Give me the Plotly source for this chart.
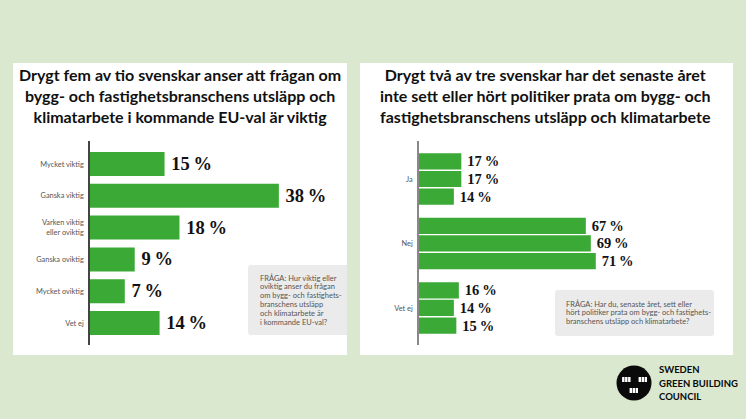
import plotly.graph_objects as go

W, H = 746, 419
# ---- data ----
left_categories = ["Mycket viktig", "Ganska viktig", "Varken viktig<br>eller oviktig", "Ganska oviktig", "Mycket oviktig", "Vet ej"]
left_values = [15, 38, 18, 9, 7, 14]
right_categories = ["Ja", "Nej", "Vet ej"]
right_series_a = [17, 67, 16]
right_series_b = [17, 69, 14]
right_series_c = [14, 71, 15]
left_title = "Drygt fem av tio svenskar anser att frågan om<br>bygg- och fastighetsbranschens utsläpp och<br>klimatarbete i kommande EU-val är viktig"
right_title = "Drygt två av tre svenskar har det senaste året<br>inte sett eller hört politiker prata om bygg- och<br>fastighetsbranschens utsläpp och klimatarbete"
left_note = ["FRÅGA: Hur viktig eller", "oviktig anser du frågan", "om bygg- och fastighets-", "branschens utsläpp", "och klimatarbete är", "i kommande EU-val?"]
right_note = ["FRÅGA: Har du, senaste året, sett eller", "hört politiker prata om bygg- och fastighets-", "branschens utsläpp och klimatarbete?"]
logo_lines = ["SWEDEN", "GREEN BUILDING", "COUNCIL"]

GREEN = "#3aa935"
BG = "#d9e8cf"
TITLE_FONT = "Lato"
LABEL_FONT = "Liberation Serif"
SMALL = "Lato"

px = lambda x: x / W
py = lambda y: 1 - y / H

fig = go.Figure()
def bar(x, y, xa, ya, size):
    return go.Bar(x=x, y=y, orientation="h", xaxis=xa, yaxis=ya,
                  marker=dict(color=GREEN, line=dict(width=0)),
                  text=[f"\u2009<b>{v}\u2009%</b>" for v in x], textposition="outside", cliponaxis=False,
                  textangle=0, constraintext="none",
                  textfont=dict(family=LABEL_FONT, size=size, color="#111111"),
                  showlegend=False, hoverinfo="skip")
fig.add_trace(bar(left_values, left_categories, "x", "y", 18.5))
for s in (right_series_a, right_series_b, right_series_c):
    fig.add_trace(bar(s, right_categories, "x2", "y2", 14.5))

def rect(x0, y0, x1, y1, color, layer="below"):
    return dict(type="rect", xref="paper", yref="paper", x0=px(x0), x1=px(x1), y0=py(y0), y1=py(y1),
                fillcolor=color, line=dict(width=0), layer=layer)
def rounded(x0, y0, x1, y1, r, color, right_round=True):
    rr = r if right_round else 0
    p = (f"M {px(x0+r)} {py(y0)} L {px(x1-rr)} {py(y0)} Q {px(x1)} {py(y0)} {px(x1)} {py(y0+rr)} "
         f"L {px(x1)} {py(y1-rr)} Q {px(x1)} {py(y1)} {px(x1-rr)} {py(y1)} L {px(x0+r)} {py(y1)} "
         f"Q {px(x0)} {py(y1)} {px(x0)} {py(y1-r)} L {px(x0)} {py(y0+r)} Q {px(x0)} {py(y0)} {px(x0+r)} {py(y0)} Z")
    return dict(type="path", xref="paper", yref="paper", path=p, fillcolor=color, line=dict(width=0), layer="below")

shapes = [rect(13, 63, 347, 355, "white"), rect(360, 63, 733, 355, "white"),
          rounded(248, 265, 347, 335, 3, "#ebebeb", right_round=False),
          rounded(555, 290, 714, 336, 3, "#ebebeb")]
# logo
cx, cy, r = 634, 383, 17.5
shapes.append(dict(type="circle", xref="paper", yref="paper", x0=px(cx-r), x1=px(cx+r), y0=py(cy-r), y1=py(cy+r),
                   fillcolor="#0a0a0a", line=dict(width=0), layer="above"))
for bx, by in [(626.5, 379.5), (643, 379.5), (634, 390.5)]:
    for dx in (-4.4, -1.4, 1.6):
        shapes.append(rect(bx+dx, by-2.5, bx+dx+2.4, by+2.5, "white", layer="above"))

def label(x, y, text, size, color="#111111", family=TITLE_FONT, anchor="left", align="left", bold=False):
    t = f"<b>{text}</b>" if bold else text
    return dict(xref="paper", yref="paper", x=px(x), y=py(y), text=t, showarrow=False, xanchor=anchor, yanchor="middle",
                align=align, font=dict(family=family, size=size, color=color))

ann = [label(180, 96, left_title, 16, anchor="center", align="center", bold=True),
       label(545, 96, right_title, 16, anchor="center", align="center", bold=True)]
for i, line in enumerate(left_note):
    ann.append(label(258, 278 + i * 8.8, line, 7.5, color="#555555", family=SMALL))
for i, line in enumerate(right_note):
    ann.append(label(564, 304 + i * 8.8, line, 7.5, color="#555555", family=SMALL))
for i, line in enumerate(logo_lines):
    ann.append(label(656.5, 369.5 + i * 13.7, line, 9.5, color="#0a0a0a", bold=True))

axis_y = dict(showgrid=False, zeroline=False, ticks="", showline=True, linewidth=1.5, type="category",
              tickfont=dict(family=SMALL, size=7.4, color="#555555"), ticklabelstandoff=3)
axis_x = dict(showgrid=False, zeroline=False, showticklabels=False, ticks="", showline=False)
fig.update_layout(
    width=W, height=H, autosize=False, margin=dict(l=0, r=0, t=0, b=0),
    paper_bgcolor=BG, plot_bgcolor="rgba(0,0,0,0)",
    shapes=shapes, annotations=ann, bargap=0.18,
    xaxis=dict(axis_x, domain=[px(90), px(347)], range=[0, 257 / 4.97], anchor="y"),
    yaxis=dict(axis_y, domain=[py(345), py(141)], range=[5.69, -0.723], anchor="x", linecolor="#444444"),
    xaxis2=dict(axis_x, domain=[px(419), px(733)], range=[0, 314 / 2.49], anchor="y2"),
    yaxis2=dict(axis_y, domain=[py(345), py(141)], range=[2.574, -0.589], anchor="x2", linecolor="#888888"),
    barmode="group", bargroupgap=0.08,
)
fig.write_html("out.html", config=dict(displayModeBar=False),
               post_script="document.body.style.margin='0';document.documentElement.style.background='%s';" % BG)
